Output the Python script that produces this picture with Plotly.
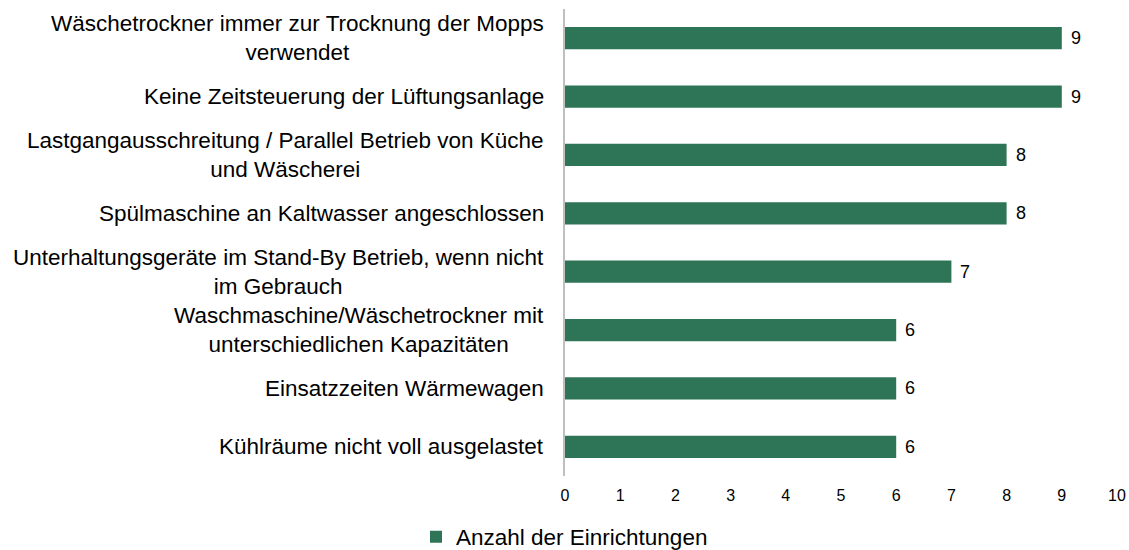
import plotly.graph_objects as go

categories = [
    "Wäschetrockner immer zur Trocknung der Mopps<br>verwendet",
    "Keine Zeitsteuerung der Lüftungsanlage",
    "Lastgangausschreitung / Parallel Betrieb von Küche<br>und Wäscherei",
    "Spülmaschine an Kaltwasser angeschlossen",
    "Unterhaltungsgeräte im Stand-By Betrieb, wenn nicht<br>im Gebrauch",
    "Waschmaschine/Wäschetrockner mit<br>unterschiedlichen Kapazitäten",
    "Einsatzzeiten Wärmewagen",
    "Kühlräume nicht voll ausgelastet",
]
values = [9, 9, 8, 8, 7, 6, 6, 6]
series_name = "Anzahl der Einrichtungen"
x_ticks = list(range(0, 11))

FONT = "Liberation Sans, Arial, sans-serif"
GREEN = "#2E7557"

fig = go.Figure()
fig.add_trace(go.Bar(
    y=categories,
    x=values,
    orientation="h",
    name=series_name,
    marker=dict(color=GREEN, line=dict(width=0)),
    hoverinfo="x+y",
))

for c, v in zip(categories, values):
    fig.add_annotation(
        x=0, xref="paper", y=c, yref="y",
        text=c, showarrow=False,
        xanchor="right", yanchor="middle", align="center",
        xshift=-19,
        font=dict(family=FONT, size=22.5, color="#000000"),
    )
    fig.add_annotation(
        x=v, xref="x", y=c, yref="y",
        text=str(v), showarrow=False,
        xanchor="left", yanchor="middle",
        xshift=7,
        font=dict(family=FONT, size=18, color="#000000"),
    )

fig.update_layout(
    width=1129, height=550,
    margin=dict(l=565, r=12, t=9, b=74),
    paper_bgcolor="white", plot_bgcolor="white",
    bargap=0.62,
    font=dict(family=FONT, color="#000000"),
    showlegend=True,
    legend=dict(
        orientation="h", x=0.5, xanchor="center", xref="container",
        y=1 - 537 / 550, yanchor="middle", yref="container",
        font=dict(family=FONT, size=22.5, color="#000000"),
        itemwidth=30,
    ),
    xaxis=dict(
        range=[0, 10], tickvals=x_ticks, showgrid=False, zeroline=False,
        showline=False, ticks="", tickfont=dict(family=FONT, size=16, color="#000000"),
        fixedrange=True, automargin=False, ticklabelstandoff=8,
    ),
    yaxis=dict(
        autorange="reversed", showticklabels=False, showgrid=False,
        zeroline=False, showline=True, linecolor="#BFBFBF", linewidth=1.5,
        ticks="", automargin=False,
    ),
)

fig.write_html(
    "out.html",
    config={"displayModeBar": False},
    post_script=(
        "document.body.style.margin='0';document.body.style.overflow='hidden';"
    ),
)
